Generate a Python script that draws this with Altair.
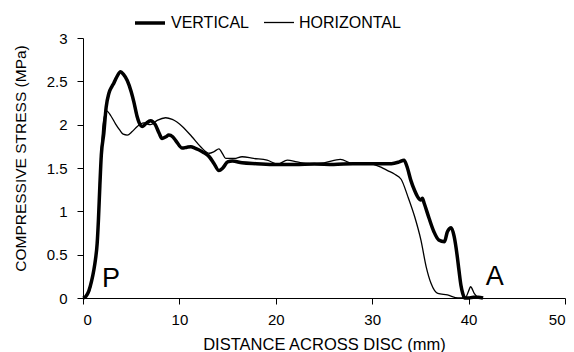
import altair as alt
import pandas as pd

# Stress profiles across the disc (distance in mm, compressive stress in MPa)
vert_x = [0, 0.3, 0.6, 0.9, 1.12, 1.3, 1.47, 1.6, 1.75, 1.9, 2.16, 2.4, 2.68, 3.0, 3.2, 3.5,
          3.9, 4.2, 4.59, 5.0, 5.28, 5.6, 5.8, 6.14, 6.5, 7.0, 7.5, 7.9, 8.2, 8.6, 8.9, 9.3,
          9.6, 10.3, 10.8, 11.2, 11.6, 12.0, 12.5, 13.1, 13.6, 14.1, 14.5, 15.0, 15.5, 16.5,
          18, 20, 22, 24, 26, 28, 30, 32, 32.8, 33.3, 33.6, 34.0, 34.4, 34.7, 35.05, 35.2,
          35.4, 35.9, 36.4, 36.9, 37.5, 37.8, 38.2, 38.5, 38.8, 39.0, 39.2, 39.4, 39.6, 40.0,
          40.5, 41.0, 41.5]
vert_y = [0, 0.02, 0.08, 0.2, 0.32, 0.45, 0.63, 0.9, 1.3, 1.65, 1.9, 2.2, 2.36, 2.44, 2.48, 2.55,
          2.61, 2.58, 2.51, 2.38, 2.26, 2.1, 2.03, 1.98, 2.01, 2.045, 2.0, 1.9, 1.84, 1.86, 1.88, 1.86,
          1.82, 1.73, 1.74, 1.745, 1.73, 1.71, 1.68, 1.63, 1.55, 1.47, 1.5, 1.57, 1.58, 1.56,
          1.55, 1.54, 1.54, 1.545, 1.54, 1.55, 1.55, 1.55, 1.57, 1.59, 1.52, 1.36, 1.24, 1.17, 1.13, 1.15,
          1.09, 0.92, 0.765, 0.67, 0.65, 0.765, 0.81, 0.71, 0.5, 0.32, 0.15, 0.05, 0.0, 0.0,
          0.01, 0.01, 0.0]

horiz_x = [0, 0.6, 0.9, 1.12, 1.45, 1.6, 1.75, 1.9, 2.1, 2.44, 2.9, 3.37, 3.8, 4.17, 4.59, 5.1,
           5.63, 6.3, 7.0, 7.7, 8.57, 9.26, 10.3, 11.3, 12.2, 13.1, 13.6, 14.1, 14.5, 14.8, 15.7,
           16.5, 17.7, 19.1, 20.2, 21.2, 22.2, 23.5, 25, 26.7, 28, 29.5, 30.9, 31.6, 32.3, 33.0,
           33.7, 34.4, 35.05, 35.6, 36.1, 36.8, 37.8, 38.9, 39.7, 40.0, 40.2, 40.6, 41.0]
horiz_y = [0, 0.06, 0.18, 0.3, 0.62, 0.9, 1.32, 1.7, 2.02, 2.16, 2.1, 2.01, 1.94, 1.89, 1.88, 1.92,
           1.98, 2.02, 2.0, 2.05, 2.08, 2.06, 1.98, 1.86, 1.745, 1.67, 1.69, 1.72, 1.66, 1.61, 1.61,
           1.63, 1.61, 1.59, 1.545, 1.59, 1.57, 1.55, 1.56, 1.60, 1.55, 1.55, 1.51, 1.47, 1.43, 1.37,
           1.17, 0.94, 0.67, 0.36, 0.17, 0.054, 0.035, 0.0, 0.01, 0.08, 0.13, 0.05, 0.0]

series_names = ["VERTICAL", "HORIZONTAL"]
series_widths = [3.5, 1.3]

# End labels: P (posterior) and A (anterior)
mark_text = ["P", "A"]
mark_x = [2.9, 42.7]
mark_y = [0.13, 0.15]

FONT = "Liberation Sans"

lines = pd.concat([
    pd.DataFrame({"distance": vert_x, "stress": vert_y, "series": series_names[0], "order": range(len(vert_x))}),
    pd.DataFrame({"distance": horiz_x, "stress": horiz_y, "series": series_names[1], "order": range(len(horiz_x))}),
])
labels = pd.DataFrame({"t": mark_text, "x": mark_x, "y": mark_y})

x_scale = alt.Scale(domain=[0, 50], nice=False)
y_scale = alt.Scale(domain=[0, 3], nice=False)

curves = alt.Chart(lines).mark_line(color="black", interpolate="monotone").encode(
    x=alt.X("distance:Q", scale=x_scale,
            axis=alt.Axis(title="DISTANCE ACROSS DISC (mm)", values=[0, 10, 20, 30, 40, 50],
                          titleY=46, titleBaseline="middle", titleFontSize=16.5)),
    y=alt.Y("stress:Q", scale=y_scale,
            axis=alt.Axis(title="COMPRESSIVE STRESS (MPa)", values=[0, 0.5, 1, 1.5, 2, 2.5, 3],
                          format="~g", titleX=-63, titleY=120, titleAngle=-90,
                          titleAlign="center", titleBaseline="middle", titleFontSize=15.5)),
    strokeWidth=alt.StrokeWidth(
        "series:N",
        scale=alt.Scale(domain=series_names, range=series_widths),
        legend=alt.Legend(title=None, orient="none", legendX=50, legendY=-32,
                          direction="horizontal", symbolType="stroke", symbolSize=900,
                          symbolStrokeColor="black", labelFont=FONT, labelFontSize=16,
                          labelColor="black", labelOffset=4, columnPadding=12, padding=0),
    ),
    detail="series:N",
    order="order:Q",
)

end_text = alt.Chart(labels).mark_text(
    font=FONT, fontSize=27, color="black", align="center", baseline="alphabetic"
).encode(
    x=alt.X("x:Q", scale=x_scale),
    y=alt.Y("y:Q", scale=y_scale),
    text="t:N",
)

chart = alt.layer(curves, end_text).properties(
    width=482, height=260,
    autosize=alt.AutoSizeParams(type="none"),
    padding={"left": 83, "top": 38, "right": 9, "bottom": 54},
).configure_view(stroke=None).configure_axis(
    grid=False, domainColor="black", tickColor="black", labelColor="black",
    titleColor="black", labelFont=FONT, titleFont=FONT, labelFontSize=15,
    titleFontSize=15, titleFontWeight="normal", tickSize=6,
).configure_axisX(labelPadding=8).configure_axisY(labelPadding=10)

chart.save("out.html", embed_options={"renderer": "svg", "actions": False})
